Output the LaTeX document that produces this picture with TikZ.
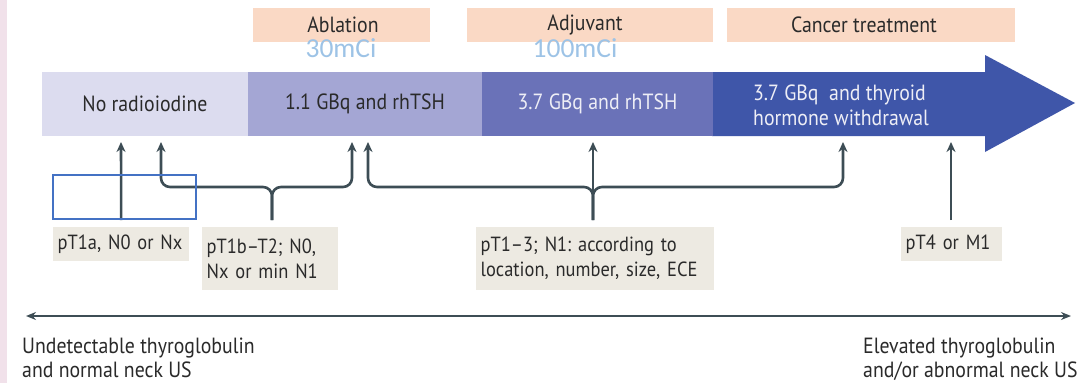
\documentclass[tikz,border=0pt]{standalone}
\usepackage{fontspec}
\setmainfont{PT Sans}[FakeStretch=0.9]
\newfontfamily\mcifont{Carlito}
\usetikzlibrary{arrows.meta,calc}
\definecolor{peach}{HTML}{FAD9C5}
\definecolor{segA}{HTML}{DCDCEF}
\definecolor{segB}{HTML}{A4A6D4}
\definecolor{segC}{HTML}{6A72B8}
\definecolor{segD}{HTML}{3F56A9}
\definecolor{labbg}{HTML}{EDEAE2}
\definecolor{conncol}{HTML}{3D4D55}
\definecolor{rectblue}{HTML}{4472C4}
\definecolor{mcicol}{HTML}{9DC3E6}
\definecolor{strip}{HTML}{F1E1EA}
\definecolor{txtdark}{HTML}{2A2A2A}
\definecolor{txtlight}{HTML}{EEEEF6}
\tikzset{
  phasebox/.style={fill=peach, draw=none},
  phase/.style={inner sep=0pt, font=\fontsize{22}{24}\selectfont, text=txtdark},
  seg/.style={minimum height=64pt, inner sep=0pt, font=\fontsize{22}{25}\selectfont},
  lab/.style={fill=labbg, anchor=north west, inner sep=0pt, text=txtdark, font=\fontsize{20.5}{25}\selectfont},
  conn/.style={draw=conncol, line width=2.6pt, -{Stealth[length=10pt,width=9pt]}},
  bconn/.style={conn, rounded corners=9pt},
  mci/.style={text=mcicol, font=\mcifont\fontsize{27.5}{29}\selectfont, inner sep=0pt},
  bot/.style={anchor=north west, align=left, inner sep=0pt, text=txtdark, font=\fontsize{22}{24}\selectfont}
}
\begin{document}
\frenchspacing
\begin{tikzpicture}[x=1pt,y=-1pt]
\frenchspacing
\useasboundingbox (0,0) rectangle (1077,383);
\fill[white] (0,0) rectangle (1077,383);
\fill[strip] (0,0) rectangle (7,383);
% phase boxes
\fill[phasebox] (253,8) rectangle (430,42);
\fill[phasebox] (467,8) rectangle (713,42);
\fill[phasebox] (727,8) rectangle (1015,42);
\node[phase] (abl) at (343,25) {Ablation};
\node[phase] (adj) at (585,25) {Adjuvant};
\node[phase] (can) at (864,25) {Cancer treatment};
\node[mci] (m30) at (341,48.5) {30mCi};
\node[mci] (m100) at (575,48.5) {100mCi};
% bar
\fill[segD] (712,72) -- (985,72) -- (985,55) -- (1075,103) -- (985,152) -- (985,136) -- (712,136) -- cycle;
\node[seg, fill=segA, minimum width=206pt, text=txtdark] (s1) at (145,104) {No radioiodine};
\node[seg, fill=segB, minimum width=234pt, text=txtdark] (s2) at (365,104) {1.1 GBq and rhTSH};
\node[seg, fill=segC, minimum width=231pt, text=txtlight] (s3) at (597.5,104) {3.7 GBq and rhTSH};
\node[anchor=west, align=left, inner sep=0pt, text=txtlight, font=\fontsize{22}{25}\selectfont] (s4) at (753,105) {3.7 GBq\ \ and thyroid\\hormone withdrawal};
% labels
\node[lab, minimum width=136pt, minimum height=34pt, text width=131pt, align=left] (l1) at (53,227) {\hspace*{2pt}pT1a, N0 or Nx};
\node[lab, minimum width=136pt, minimum height=63pt, text width=131pt, align=left] (l2) at (202,227) {\hspace*{2pt}pT1b--T2; N0,\\\hspace*{2pt}Nx or min N1};
\node[lab, minimum width=238pt, minimum height=63pt, text width=233pt, align=left] (l3) at (476,227) {\hspace*{2pt}pT1--3; N1: according to\\\hspace*{2pt}location, number, size, ECE};
\node[lab, minimum width=101pt, minimum height=34pt, text width=96pt, align=left] (l4) at (901,227) {\hspace*{2pt}pT4 or M1};
% tips
\coordinate (t1) at (121,142);
\coordinate (t2a) at (161,142);
\coordinate (t2b) at (352,142);
\coordinate (t3a) at (368,142);
\coordinate (t3b) at (843,142);
\coordinate (t3c) at (593,142);
\coordinate (t4) at (951,142);
% connectors
\draw[conn] (l1.north |- 0,220) -- (t1);
\draw[bconn] (272,220) -- (272,187) -- (t2a |- 0,187) -- (t2a);
\draw[bconn] (272,220) -- (272,187) -- (t2b |- 0,187) -- (t2b);
\draw[bconn] (593,220) -- (593,187) -- (t3a |- 0,187) -- (t3a);
\draw[bconn] (593,220) -- (593,187) -- (t3b |- 0,187) -- (t3b);
\draw[conn] (593,220) -- (t3c);
\draw[conn] (951,220) -- (t4);
% blue rectangle
\draw[rectblue, line width=2pt] (53,175) rectangle (196,219);
% bottom axis
\coordinate (axL) at (26,316);
\coordinate (axR) at (1071,316);
\draw[draw=conncol, line width=2pt, {Stealth[length=10pt,width=8pt]}-{Stealth[length=10pt,width=8pt]}] (axL) -- (axR);
\node[bot] (b1) at (22,338) {Undetectable thyroglobulin\\and normal neck US};
\node[bot] (b2) at (863,338) {Elevated thyroglobulin\\and/or abnormal neck US};
\end{tikzpicture}
\end{document}
